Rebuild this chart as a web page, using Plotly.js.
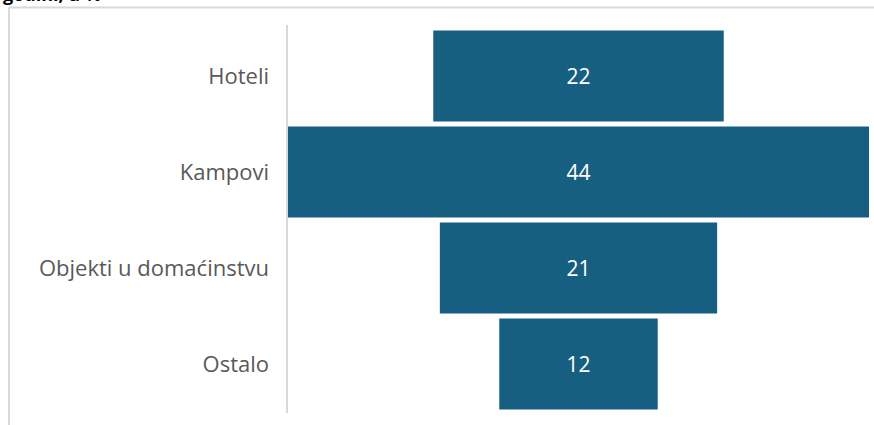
<!DOCTYPE html>
<html>
<head>
<meta charset="utf-8">
<script src="https://cdn.plot.ly/plotly-3.0.1.min.js"></script>
<style>html,body{margin:0;padding:0;background:#fff;}#chart{width:874px;height:425px;}</style>
</head>
<body>
<div id="chart"></div>
<script>
const categories = ["Hoteli", "Kampovi", "Objekti u domaćinstvu", "Ostalo"];
const values = [22, 44, 21, 12];
const titleText = "godini, u %";

const W = 874, H = 425;
const M = {l: 288, r: 5, t: 28, b: 13};
const pw = W - M.l - M.r, ph = H - M.t - M.b;
const px = x => (x - M.l) / pw;
const py = y => 1 - (y - M.t) / ph;

const trace = {
  type: "funnel",
  orientation: "h",
  y: categories,
  x: values,
  marker: {color: "#165f80", line: {width: 0}},
  connector: {visible: false},
  textinfo: "value",
  textposition: "inside",
  insidetextanchor: "middle",
  textfont: {color: "#ffffff", size: 21, family: "Open Sans, sans-serif"},
  constraintext: "none",
  hoverinfo: "skip"
};

const maxV = Math.max(...values);
const layout = {
  width: W, height: H,
  margin: M,
  paper_bgcolor: "#ffffff",
  plot_bgcolor: "#ffffff",
  showlegend: false,
  funnelgap: 0.05,
  xaxis: {range: [-maxV / 2, maxV / 2], visible: false, fixedrange: true},
  yaxis: {
    categoryorder: "array", categoryarray: categories,
    autorange: "reversed",
    showline: false, showgrid: false, zeroline: false,
    ticks: "", ticklabelstandoff: 18,
    tickfont: {family: "Open Sans, sans-serif", size: 22, color: "#595959"}
  },
  shapes: [
    {type: "line", xref: "paper", yref: "paper", x0: px(9), x1: px(875), y0: py(7.5), y1: py(7.5), line: {color: "#d9d9d9", width: 2}},
    {type: "line", xref: "paper", yref: "paper", x0: px(9), x1: px(9), y0: py(7.5), y1: py(430), line: {color: "#d9d9d9", width: 2}},
    {type: "line", xref: "paper", yref: "paper", x0: px(287), x1: px(287), y0: py(25), y1: py(413), line: {color: "#d9d9d9", width: 2}}
  ],
  annotations: [
    {text: "<b>" + titleText + "</b>", xref: "paper", yref: "paper", x: px(1), y: py(-6), xanchor: "left", yanchor: "middle", showarrow: false,
     font: {family: "Open Sans, sans-serif", size: 18, color: "#000000"}}
  ]
};

Plotly.newPlot("chart", [trace], layout, {displayModeBar: false, staticPlot: true});
</script>
</body>
</html>
